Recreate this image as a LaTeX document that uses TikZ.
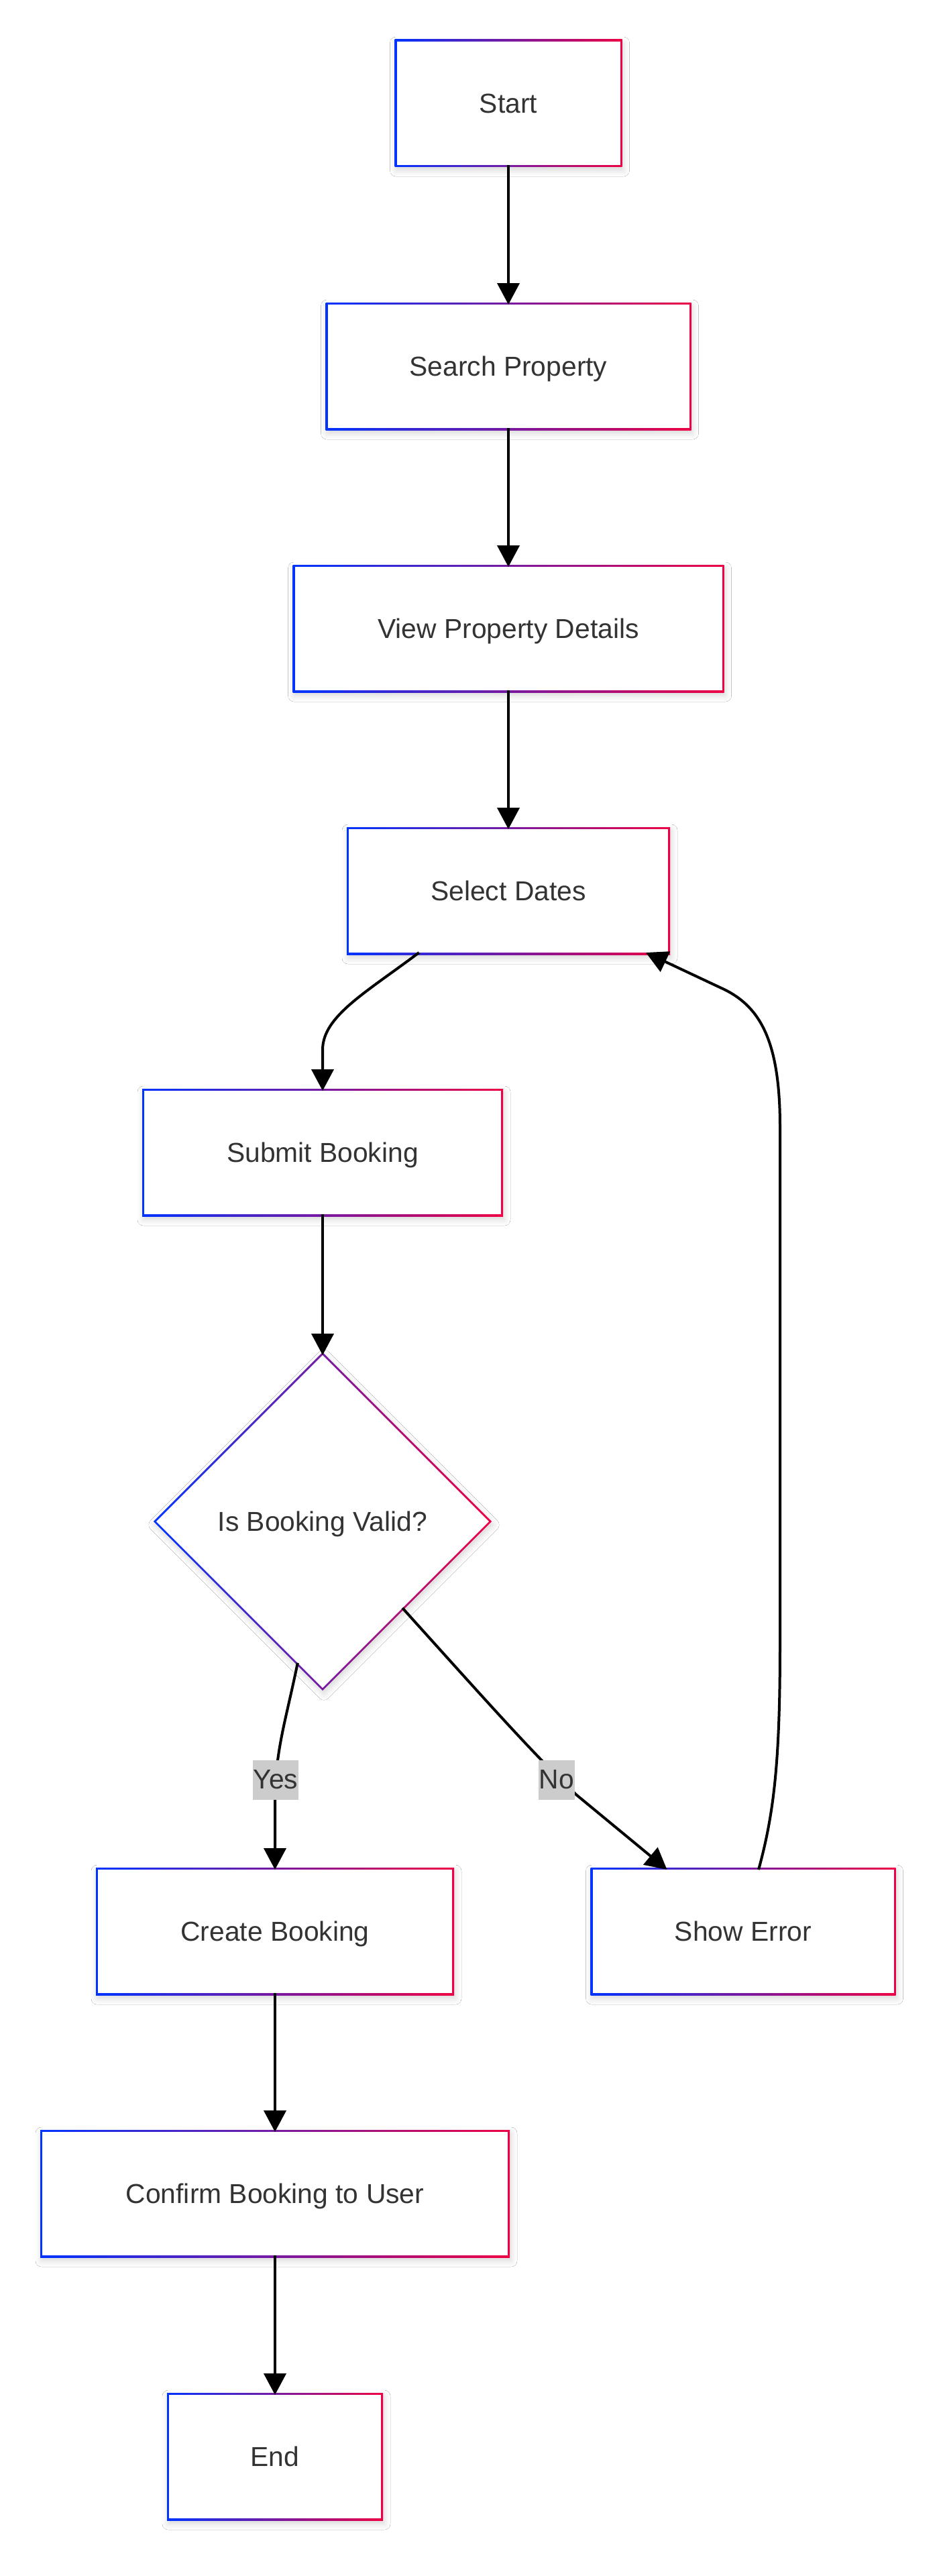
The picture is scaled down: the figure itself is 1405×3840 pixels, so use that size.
\documentclass[tikz,border=0pt]{standalone}
\usepackage{fontspec}
\setmainfont{Liberation Sans}
\usetikzlibrary{arrows.meta,shapes.geometric,backgrounds,calc,shadows.blur}
\definecolor{gblue}{RGB}{0,51,255}
\definecolor{gred}{RGB}{238,0,68}
\definecolor{txt}{RGB}{51,51,51}
\definecolor{lblbg}{RGB}{204,204,204}
\tikzset{
  box/.style={rectangle, fill=white, minimum height=184pt, inner sep=0pt, outer sep=0pt, text=txt, text height=36pt, text depth=6.8pt, font=\fontsize{40.8}{48}\selectfont},
  dec/.style={diamond, fill=white, minimum width=496pt, minimum height=496pt, inner sep=0pt, outer sep=0pt, text=txt, text height=36pt, text depth=6.8pt, font=\fontsize{40.8}{48}\selectfont},
  flow/.style={line width=4pt, black, -{Triangle[length=32pt,width=33pt]}},
  lbl/.style={fill=lblbg, text=txt, font=\fontsize{40.8}{48}\selectfont, inner xsep=1pt, inner ysep=0pt, minimum height=59pt},
  gframe/.style={left color=gblue, right color=gred, blur shadow={shadow xshift=2pt, shadow yshift=-5pt, shadow blur radius=9pt, shadow opacity=16}},
}
\begin{document}
\begin{tikzpicture}[x=1pt,y=-1pt]
\useasboundingbox (0,0) rectangle (1405,3840);
% nodes
\node[box, minimum width=333pt] (start) at (758,154) {Start};
\node[box, minimum width=539pt] (search) at (758,546) {Search Property};
\node[box, minimum width=637pt] (view) at (758,937) {View Property Details};
\node[box, minimum width=476pt] (select) at (758,1328) {Select Dates};
\node[box, minimum width=532pt] (submit) at (481,1718) {Submit Booking};
\node[dec] (valid) at (481,2268) {Is Booking Valid?};
\node[box, minimum width=528pt] (create) at (410,2879) {Create Booking};
\node[box, minimum width=449pt] (error) at (1108,2879) {Show Error};
\node[box, minimum width=694pt] (confirm) at (410,3270) {Confirm Booking to User};
\node[box, minimum width=316pt] (endn) at (410,3662) {End};
% gradient frames and shadows
\begin{scope}[on background layer]
  \fill[white] (0,0) rectangle (1405,3840);
  \foreach \n in {start,search,view,select,submit,create,error,confirm,endn}
    \shade[gframe] ($(\n.south west)+(-3pt,-3pt)$) rectangle ($(\n.north east)+(3pt,3pt)$);
  \shade[gframe] ($(valid.north)+(0pt,4.2pt)$) -- ($(valid.east)+(4.2pt,0pt)$) -- ($(valid.south)+(0pt,-4.2pt)$) -- ($(valid.west)+(-4.2pt,0pt)$) -- cycle;
\end{scope}
% connectors
\draw[flow] (start) -- (search);
\draw[flow] (search) -- (view);
\draw[flow] (view) -- (select);
\coordinate (s1) at ($(select.south west)!0.22!(select.south east)$);
\draw[flow] (s1) .. controls (545,1480) and (481,1515) .. (481,1565) -- (submit.north);
\draw[flow] (submit) -- (valid);
\coordinate (y1) at ($(valid.south)!0.15!(valid.west)$);
\draw[flow] (y1) .. controls (425,2570) and (410,2610) .. (410,2690) -- (create.north);
\coordinate (n1) at ($(valid.south)!0.48!(valid.east)$);
\coordinate (e1) at ($(error.north west)+(111pt,0pt)$);
\draw[flow] (n1) .. controls (720,2530) and (800,2620) .. (860,2676) -- (e1);
\draw[flow] (create) -- (confirm);
\draw[flow] (confirm) -- (endn);
\coordinate (r1) at ($(error.north)+(23pt,0pt)$);
\coordinate (r2) at ($(select.south east)+(-33pt,0pt)$);
\draw[flow] (r1) .. controls (1155,2700) and (1163,2620) .. (1163,2450) -- (1163,1680) .. controls (1163,1555) and (1135,1502) .. (1080,1475) -- (r2);
% edge labels
\node[lbl] (yes) at (411,2653) {Yes};
\node[lbl] (no) at (830,2653) {No};
\end{tikzpicture}
\end{document}
